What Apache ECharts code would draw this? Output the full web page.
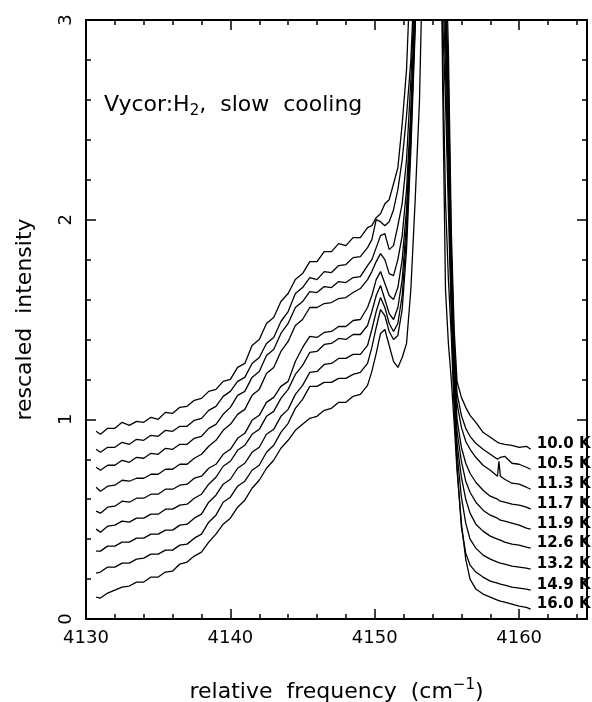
<!DOCTYPE html>
<html>
<head>
<meta charset="utf-8">
<script src="https://cdn.jsdelivr.net/npm/echarts@6/dist/echarts.min.js"></script>
<style>
html,body{margin:0;padding:0;background:#fff;}
#c{width:592px;height:702px;}
</style>
</head>
<body>
<div id="c"></div>
<script>
// relative frequency grid (cm^-1)
const freq = [4130.7,4131,4131.5,4132,4132.5,4133,4133.5,4134,4134.5,4135,4135.5,4136,4136.5,4137,4137.5,4138,4138.5,4139,4139.5,4140,4140.5,4141,4141.5,4142,4142.5,4143,4143.5,4144,4144.5,4145,4145.5,4146,4146.5,4147,4147.5,4148,4148.5,4149,4149.5,
  4149.8,4150.1,4150.4,4150.7,4151.0,4151.3,4151.6,4151.9,4152.2,4152.5,4152.8,4153.1,4153.4,4154.0,
  4154.7,4154.9,4155.1,4155.3,4155.5,4155.7,4156.0,4156.3,4156.6,4157.0,4157.5,4158.0,4158.5,4158.6,4158.7,4159.0,4159.5,4160.0,4160.5,4160.8];

const temps = ['10.0 K','10.5 K','11.3 K','11.7 K','11.9 K','12.6 K','13.2 K','14.9 K','16.0 K'];

const i100 = [0.94,0.925,0.955,0.955,0.985,0.97,0.99,0.985,1.01,1.0,1.035,1.03,1.06,1.065,1.095,1.105,1.14,1.15,1.19,1.2,1.26,1.28,1.37,1.40,1.48,1.51,1.59,1.63,1.70,1.73,1.79,1.79,1.84,1.84,1.88,1.87,1.91,1.91,1.96,
  1.97,2.01,2.03,2.08,2.10,2.18,2.26,2.48,2.75,3.3,4.2,5.0,6.0,8.0,
  4.5,3.4,2.85,1.95,1.45,1.19,1.11,1.06,1.02,0.985,0.935,0.91,0.885,0.89,0.88,0.875,0.87,0.86,0.865,0.85];
const i105 = [0.85,0.835,0.86,0.86,0.885,0.875,0.90,0.895,0.92,0.915,0.945,0.94,0.965,0.965,0.995,1.005,1.045,1.065,1.115,1.14,1.19,1.21,1.28,1.31,1.38,1.41,1.49,1.54,1.63,1.66,1.71,1.70,1.74,1.735,1.77,1.775,1.81,1.815,1.86,
  1.90,2.00,1.99,1.97,1.99,2.05,2.15,2.30,2.52,2.8,3.3,4.5,5.5,8.0,
  4.0,3.2,2.7,1.85,1.38,1.13,1.02,0.955,0.915,0.88,0.85,0.825,0.80,0.805,0.81,0.815,0.78,0.775,0.76,0.75];
const i113 = [0.76,0.745,0.77,0.77,0.795,0.785,0.81,0.805,0.83,0.825,0.855,0.85,0.875,0.875,0.905,0.915,0.955,0.975,1.025,1.06,1.12,1.14,1.21,1.24,1.32,1.35,1.43,1.48,1.56,1.59,1.64,1.635,1.665,1.66,1.69,1.685,1.71,1.715,1.77,
  1.80,1.86,1.92,1.93,1.85,1.87,1.97,2.08,2.30,2.70,3.2,4.3,5.5,8.0,
  3.8,3.1,2.6,1.8,1.32,1.08,0.96,0.89,0.85,0.81,0.77,0.745,0.715,0.79,0.715,0.70,0.68,0.675,0.66,0.65];
const i117 = [0.66,0.64,0.665,0.67,0.695,0.69,0.705,0.705,0.725,0.725,0.75,0.75,0.775,0.775,0.805,0.825,0.865,0.895,0.945,0.975,1.025,1.05,1.12,1.15,1.23,1.26,1.34,1.39,1.47,1.50,1.56,1.56,1.58,1.585,1.605,1.61,1.635,1.655,1.70,
  1.74,1.79,1.83,1.80,1.73,1.72,1.80,1.92,2.15,2.55,3.1,4.2,5.4,8.0,
  3.6,3.0,2.5,1.75,1.27,1.0,0.86,0.78,0.73,0.685,0.645,0.615,0.60,0.595,0.59,0.585,0.575,0.57,0.56,0.55];
const i119 = [0.54,0.53,0.56,0.565,0.59,0.585,0.605,0.605,0.625,0.625,0.65,0.65,0.67,0.675,0.705,0.715,0.755,0.775,0.825,0.85,0.905,0.93,0.995,1.02,1.085,1.11,1.165,1.19,1.29,1.36,1.415,1.41,1.435,1.44,1.465,1.465,1.495,1.50,1.56,
  1.62,1.70,1.74,1.68,1.62,1.60,1.66,1.80,2.05,2.5,3.1,4.2,5.3,8.0,
  3.4,2.9,2.35,1.68,1.22,0.94,0.79,0.69,0.635,0.585,0.545,0.52,0.505,0.50,0.495,0.49,0.48,0.47,0.455,0.45];
const i126 = [0.45,0.435,0.465,0.47,0.49,0.485,0.505,0.505,0.525,0.525,0.55,0.55,0.57,0.575,0.605,0.625,0.675,0.71,0.765,0.79,0.845,0.87,0.925,0.95,1.015,1.04,1.105,1.15,1.225,1.27,1.335,1.34,1.375,1.38,1.405,1.40,1.425,1.425,1.47,
  1.54,1.62,1.67,1.60,1.53,1.50,1.56,1.70,1.98,2.45,3.05,4.1,5.2,8.0,
  3.2,2.75,2.2,1.6,1.17,0.88,0.71,0.60,0.53,0.475,0.44,0.415,0.40,0.40,0.395,0.385,0.375,0.37,0.36,0.355];
const i132 = [0.34,0.34,0.365,0.365,0.385,0.385,0.405,0.405,0.425,0.425,0.445,0.445,0.47,0.475,0.505,0.525,0.585,0.62,0.675,0.70,0.755,0.78,0.835,0.86,0.925,0.95,1.015,1.05,1.125,1.17,1.235,1.24,1.275,1.28,1.305,1.305,1.325,1.325,1.37,
  1.45,1.54,1.61,1.56,1.48,1.44,1.48,1.62,1.92,2.4,3.0,4.0,5.1,8.0,
  3.0,2.6,2.05,1.52,1.12,0.83,0.61,0.48,0.40,0.355,0.32,0.30,0.285,0.285,0.28,0.275,0.265,0.26,0.255,0.25];
const i149 = [0.23,0.235,0.26,0.26,0.28,0.28,0.30,0.305,0.325,0.325,0.345,0.345,0.37,0.375,0.405,0.425,0.485,0.52,0.585,0.61,0.665,0.69,0.745,0.77,0.835,0.87,0.935,0.98,1.055,1.10,1.165,1.165,1.185,1.185,1.205,1.205,1.225,1.235,1.28,
  1.36,1.46,1.55,1.52,1.44,1.40,1.42,1.55,1.85,2.35,2.95,4.0,5.0,8.0,
  2.85,2.1,1.7,1.42,1.05,0.77,0.46,0.33,0.27,0.235,0.21,0.19,0.18,0.18,0.175,0.17,0.16,0.155,0.15,0.145];
const i160 = [0.11,0.105,0.13,0.145,0.16,0.165,0.185,0.185,0.21,0.21,0.235,0.24,0.275,0.285,0.315,0.335,0.385,0.425,0.475,0.505,0.56,0.595,0.655,0.695,0.755,0.795,0.855,0.895,0.945,0.975,1.005,1.015,1.045,1.055,1.085,1.085,1.115,1.125,1.17,
  1.24,1.33,1.43,1.45,1.37,1.29,1.26,1.31,1.38,1.65,2.1,2.6,3.6,8.0,
  2.69,1.65,1.38,1.2,0.98,0.74,0.48,0.30,0.2,0.15,0.125,0.11,0.095,0.095,0.09,0.085,0.075,0.065,0.058,0.05];

const curves = [i100,i105,i113,i117,i119,i126,i132,i149,i160];
const xTicks = [4130,4140,4150,4160];
const yTicks = [0,1,2,3];

const FONT = 'DejaVu Sans';
const axisLineStyle = {color:'#000', width:2};
function xAxisCfg(pos, showLabel){
  return {
    type:'value', position:pos, min:4130, max:4164.7, interval:10,
    axisLine:{show:true, onZero:false, lineStyle:axisLineStyle},
    axisTick:{show:true, inside:true, length:10, lineStyle:{color:'#000', width:1.5}},
    minorTick:{show:true, splitNumber:5, length:5, lineStyle:{color:'#000', width:1.5}},
    splitLine:{show:false}, minorSplitLine:{show:false},
    axisLabel:{show:showLabel, margin:10, color:'#000', fontSize:18, fontFamily:FONT,
      formatter: v => xTicks.indexOf(v) >= 0 ? String(v) : ''}
  };
}
function yAxisCfg(pos, showLabel){
  return {
    type:'value', position:pos, min:0, max:3, interval:1,
    axisLine:{show:true, onZero:false, lineStyle:axisLineStyle},
    axisTick:{show:true, inside:true, length:10, lineStyle:{color:'#000', width:1.5}},
    minorTick:{show:true, splitNumber:5, length:5, lineStyle:{color:'#000', width:1.5}},
    splitLine:{show:false}, minorSplitLine:{show:false},
    axisLabel:{show:showLabel, rotate:90, margin:11, color:'#000', fontSize:18, fontFamily:FONT,
      formatter: v => yTicks.indexOf(v) >= 0 ? String(v) : ''}
  };
}

const xBottom = xAxisCfg('bottom', true);
xBottom.name = '{a|relative  frequency  (cm}{s|−1}{a|)}';
xBottom.nameLocation = 'middle';
xBottom.nameGap = 59;
xBottom.nameTextStyle = {rich:{
  a:{fontSize:22, fontFamily:FONT, color:'#000', lineHeight:28},
  s:{fontSize:15, fontFamily:FONT, color:'#000', lineHeight:14, verticalAlign:'top'}
}};
const yLeft = yAxisCfg('left', true);
yLeft.name = 'rescaled  intensity';
yLeft.nameLocation = 'middle';
yLeft.nameRotate = 90;
yLeft.nameGap = 50;
yLeft.nameTextStyle = {fontSize:22, fontFamily:FONT, color:'#000'};

const chart = echarts.init(document.getElementById('c'), null, {renderer:'canvas'});
chart.setOption({
  animation:false,
  backgroundColor:'#fff',
  title:{
    text:'{a|Vycor:H}{b|2}{a|,  slow  cooling}',
    left:104, top:91, padding:0,
    textStyle:{fontWeight:'normal', rich:{
      a:{fontSize:22, fontWeight:'normal', fontFamily:FONT, color:'#000', lineHeight:28},
      b:{fontSize:15, fontWeight:'normal', fontFamily:FONT, color:'#000', lineHeight:10, verticalAlign:'bottom'}
    }}
  },
  grid:{left:86, right:5, top:20, bottom:83, outerBoundsMode:'none', containLabel:false},
  xAxis:[xBottom, xAxisCfg('top', false)],
  yAxis:[yLeft, yAxisCfg('right', false)],
  series: curves.map((vals, k) => ({
    type:'line', name:temps[k],
    data: freq.map((f, j) => [f, vals[j]]),
    showSymbol:false, symbol:'none', clip:true, silent:true,
    lineStyle:{color:'#000', width:1.3},
    endLabel:{show:true, formatter: p => p.seriesName, distance:6, offset:[0,-5],
      color:'#000', fontSize:15, fontWeight:'bold', fontFamily:FONT}
  }))
});
</script>
</body>
</html>
